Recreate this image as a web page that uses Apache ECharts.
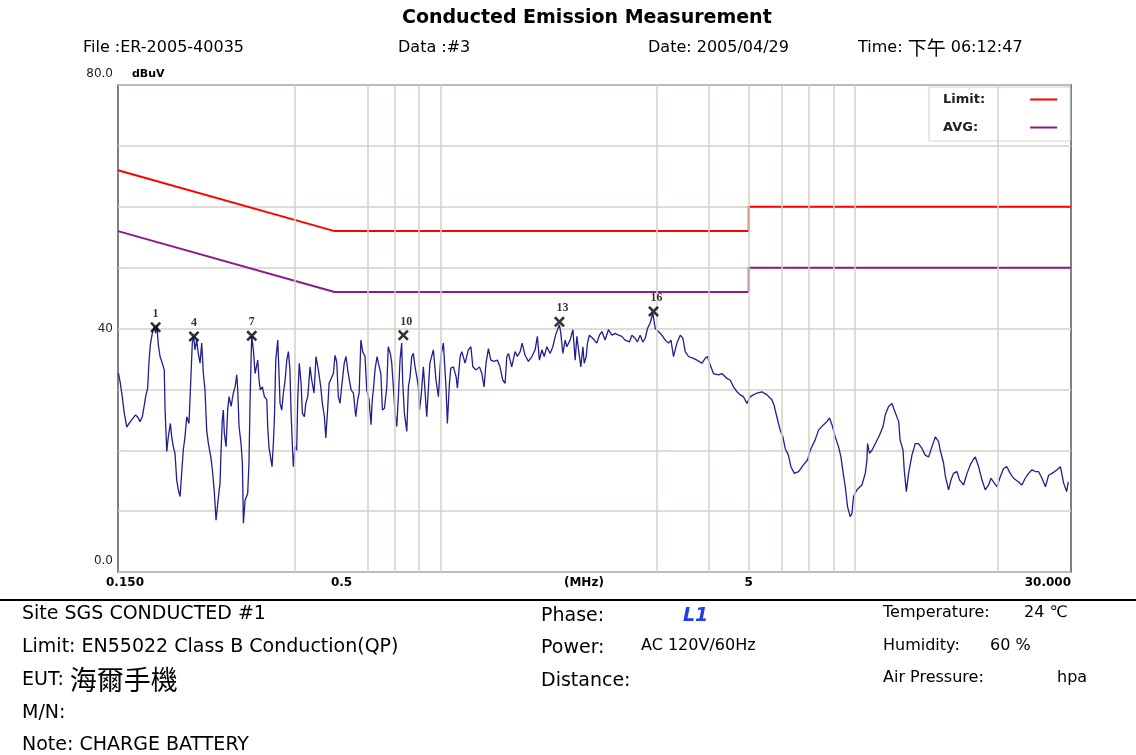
<!DOCTYPE html>
<html>
<head>
<meta charset="utf-8">
<title>Conducted Emission Measurement</title>
<script src="https://cdn.jsdelivr.net/npm/echarts@6/dist/echarts.min.js"></script>
<style>
html, body { margin: 0; padding: 0; background: #fff; }
#chart { width: 1136px; height: 755px; }
</style>
</head>
<body>
<div id="chart"></div>
<script>
var FONT = '"DejaVu Sans", "Noto Sans CJK TC", sans-serif';
var CJK = '"Noto Sans CJK TC", "DejaVu Sans", sans-serif';

// limit lines (MHz, dBuV)
var limitQP = [[0.15, 66], [0.5, 56], [5, 56], [5, 60], [30, 60]];
var limitAVG = [[0.15, 56], [0.5, 46], [5, 46], [5, 50], [30, 50]];

// marked peaks
var peakNo = ['1', '4', '7', '10', '13', '16'];
var peakFreq = [0.1849, 0.2288, 0.3155, 0.7328, 1.7456, 2.945];
var peakLevel = [40.2, 38.7, 38.8, 38.9, 41.1, 42.8];

// vertical grid lines the plot shows
var gridFreq = [0.4, 0.6, 0.7, 0.8, 0.9, 3, 4, 5, 6, 7, 8, 9, 20];

// axis labels
var xLabelValues = [0.15, 0.5, 2, 5, 30];
var xLabelText = ['0.150', '0.5', '(MHz)', '5', '30.000'];
var yLabelValues = [0, 40, 80];
var yLabelText = ['0.0', '40', '80.0'];

// scan trace (MHz, dBuV)
var scanData = [
  [0.1503,32.7],[0.1517,31.3],[0.1536,28.8],[0.1553,26.1],[0.1564,25.0],[0.1575,23.8],[0.1595,24.4],[0.1619,25.0],[0.1633,25.3],[0.1654,25.8],
  [0.1679,25.3],[0.1695,24.7],[0.1717,25.5],[0.1736,27.4],[0.1749,28.8],[0.1769,30.2],[0.1782,34.5],[0.1795,37.3],[0.1815,39.2],[0.1835,40.3],
  [0.1849,39.2],[0.1862,40.6],[0.1877,37.3],[0.1895,35.4],[0.1919,34.3],[0.1940,33.2],[0.1948,26.9],[0.1967,19.8],[0.1984,22.2],[0.2007,24.4],
  [0.2022,22.2],[0.2040,20.6],[0.2059,19.5],[0.2079,15.1],[0.2098,13.5],[0.2118,12.4],[0.2137,16.2],[0.2156,20.0],[0.2177,22.2],[0.2198,25.5],
  [0.2226,24.4],[0.2250,32.1],[0.2267,37.6],[0.2285,38.7],[0.2301,36.5],[0.2323,38.1],[0.2344,35.9],[0.2367,34.3],[0.2389,37.6],[0.2411,32.6],
  [0.2433,29.9],[0.2456,23.3],[0.2479,21.1],[0.2513,18.9],[0.2535,16.8],[0.2562,13.2],[0.2587,8.5],[0.2612,11.3],[0.2645,14.6],[0.2659,19.5],
  [0.2679,25.0],[0.2694,26.6],[0.2709,22.8],[0.2735,20.6],[0.2760,26.6],[0.2781,28.8],[0.2813,27.2],[0.2848,29.4],[0.2876,30.4],[0.2903,32.4],
  [0.2919,29.9],[0.2940,23.9],[0.2973,21.1],[0.2995,17.9],[0.3012,8.0],[0.3040,11.8],[0.3085,12.9],[0.3107,17.9],[0.3125,27.7],[0.3143,34.8],
  [0.3155,38.7],[0.3184,36.5],[0.3214,32.6],[0.3262,34.8],[0.3286,31.5],[0.3309,29.9],[0.3347,30.4],[0.3385,28.8],[0.3430,28.3],[0.3449,23.6],
  [0.3474,20.4],[0.3532,17.3],[0.3558,21.1],[0.3578,25.0],[0.3606,34.8],[0.3646,38.1],[0.3672,32.6],[0.3693,27.7],[0.3728,26.6],[0.3762,29.4],
  [0.3798,31.5],[0.3834,34.8],[0.3868,36.2],[0.3902,33.2],[0.3924,26.6],[0.3953,21.1],[0.3976,17.3],[0.4013,20.6],[0.4051,20.0],[0.4074,28.3],
  [0.4109,34.3],[0.4151,31.0],[0.4181,26.1],[0.4228,25.5],[0.4261,27.7],[0.4308,28.8],[0.4363,33.7],[0.4405,31.5],[0.4461,29.4],[0.4510,35.4],
  [0.4569,33.2],[0.4631,30.4],[0.4672,27.7],[0.4725,25.5],[0.4763,22.0],[0.4816,27.2],[0.4851,31.0],[0.4902,30.7],[0.4967,32.6],[0.5014,35.6],
  [0.5061,34.5],[0.5106,28.8],[0.5153,27.7],[0.5201,30.4],[0.5276,34.3],[0.5328,35.4],[0.5380,33.2],[0.5420,31.8],[0.5482,29.9],[0.5552,29.4],
  [0.5626,25.5],[0.5687,28.3],[0.5732,29.4],[0.5789,38.1],[0.5846,36.2],[0.5923,35.4],[0.5980,29.9],[0.6057,28.3],[0.6124,24.2],[0.6167,28.3],
  [0.6214,30.4],[0.6261,33.2],[0.6333,35.4],[0.6380,34.3],[0.6467,32.6],[0.6525,26.6],[0.6598,26.9],[0.6685,30.4],[0.6738,37.0],[0.6817,35.9],
  [0.6871,34.3],[0.6934,30.4],[0.7000,26.1],[0.7066,23.9],[0.7129,28.8],[0.7195,34.8],[0.7262,37.6],[0.7301,31.5],[0.7370,26.1],[0.7471,23.1],
  [0.7538,30.4],[0.7609,32.1],[0.7680,35.4],[0.7746,35.9],[0.7822,33.7],[0.7898,32.1],[0.7969,30.4],[0.8013,26.6],[0.8090,28.8],[0.8192,33.7],
  [0.8348,25.5],[0.8495,34.3],[0.8661,36.5],[0.8789,31.5],[0.8905,28.8],[0.9025,35.4],[0.9156,37.6],[0.9291,30.4],[0.9362,24.4],[0.9469,31.0],
  [0.9543,33.5],[0.9681,33.7],[0.9827,32.1],[0.9900,30.2],[1.005,35.4],[1.0145,36.2],[1.033,34.3],[1.052,36.5],[1.067,37.0],[1.0785,33.7],
  [1.0988,33.2],[1.119,33.7],[1.134,32.6],[1.148,30.4],[1.1605,34.3],[1.176,36.7],[1.192,34.8],[1.214,34.6],[1.236,34.8],[1.2544,33.7],
  [1.274,31.5],[1.2905,31.0],[1.303,35.4],[1.315,35.9],[1.339,33.7],[1.364,36.2],[1.382,35.4],[1.403,36.2],[1.419,37.6],[1.442,35.6],
  [1.469,34.6],[1.4975,35.4],[1.525,36.5],[1.544,38.7],[1.5616,34.8],[1.583,36.5],[1.6036,35.4],[1.628,37.0],[1.657,35.9],[1.683,37.0],
  [1.705,38.7],[1.7265,39.8],[1.7456,40.6],[1.759,39.2],[1.779,35.9],[1.802,38.1],[1.819,37.0],[1.852,38.1],[1.881,39.8],[1.905,34.8],
  [1.923,38.7],[1.951,35.4],[1.966,33.7],[1.989,37.0],[2.003,34.3],[2.026,35.4],[2.040,37.6],[2.062,38.9],[2.100,38.4],[2.1485,37.6],
  [2.1804,38.9],[2.210,39.5],[2.250,38.1],[2.292,39.8],[2.3357,38.9],[2.380,39.2],[2.424,38.9],[2.470,38.7],[2.5145,38.1],[2.577,37.8],
  [2.612,38.9],[2.660,38.4],[2.692,37.8],[2.734,38.9],[2.7765,37.8],[2.8126,38.4],[2.848,40.0],[2.890,40.9],[2.935,42.5],[2.973,40.0],
  [3.0285,39.5],[3.085,38.9],[3.143,38.1],[3.202,37.6],[3.245,38.1],[3.291,35.4],[3.354,37.6],[3.417,38.9],[3.468,38.4],[3.512,36.2],
  [3.578,35.4],[3.678,35.1],[3.749,34.8],[3.855,34.3],[3.924,35.1],[3.9755,35.4],[4.036,34.0],[4.111,32.6],[4.226,32.4],[4.307,32.6],
  [4.430,31.8],[4.5126,31.5],[4.595,30.4],[4.684,29.6],[4.769,29.1],[4.855,28.8],[4.950,27.7],[5.042,28.8],[5.134,29.1],[5.233,29.4],
  [5.380,29.6],[5.534,29.1],[5.687,28.3],[5.756,27.4],[5.846,25.5],[5.956,23.3],[6.047,22.2],[6.124,20.3],[6.234,19.2],[6.322,17.3],
  [6.442,16.2],[6.598,16.5],[6.777,17.6],[6.934,18.4],[7.039,20.0],[7.234,21.7],[7.370,23.3],[7.580,24.2],[7.722,24.7],[7.835,25.3],
  [7.942,24.2],[8.089,22.2],[8.237,20.6],[8.348,18.9],[8.443,16.5],[8.552,14.0],[8.662,10.7],[8.789,9.1],[8.874,9.6],[8.955,12.4],
  [9.126,13.5],[9.383,14.3],[9.558,16.2],[9.648,18.4],[9.680,21.1],[9.788,19.5],[9.922,20.0],[10.11,21.1],[10.35,22.5],[10.55,23.9],
  [10.68,25.8],[10.88,27.2],[11.09,27.7],[11.23,26.6],[11.51,24.7],[11.60,21.7],[11.79,20.0],[11.87,16.8],[12.01,13.2],[12.16,16.2],
  [12.39,19.2],[12.62,21.1],[12.85,21.1],[13.10,20.3],[13.34,19.2],[13.59,18.9],[13.85,20.6],[14.11,22.2],[14.37,21.4],[14.50,20.0],
  [14.77,17.9],[14.92,15.7],[15.19,13.5],[15.39,15.1],[15.61,16.2],[15.91,16.5],[16.15,15.1],[16.51,14.3],[16.83,16.2],[17.14,17.6],
  [17.40,18.4],[17.62,18.9],[17.95,17.3],[18.29,15.1],[18.62,13.5],[18.98,14.3],[19.23,15.4],[19.59,14.6],[19.89,14.0],[20.26,15.7],
  [20.62,17.0],[21.00,17.3],[21.40,16.2],[21.80,15.4],[22.42,14.8],[22.83,14.3],[23.26,15.4],[23.70,16.2],[24.16,16.8],[24.60,16.5],
  [25.04,16.5],[25.53,15.4],[26.02,14.0],[26.49,15.9],[26.99,16.2],[27.77,16.8],[28.28,17.3],[28.80,14.6],[29.28,13.2],[29.55,14.8]
];

// header / footer texts
var headerTexts = [
  { text: 'File :ER-2005-40035', x: 83 },
  { text: 'Data :#3', x: 398 },
  { text: 'Date: 2005/04/29', x: 648 },
  { text: 'Time: {c|下午} 06:12:47', x: 858 }
];
var footerLeft = ['Site SGS CONDUCTED #1', 'Limit: EN55022 Class B Conduction(QP)', 'EUT: {c|海爾手機}', 'M/N:', 'Note: CHARGE BATTERY'];
var footerLeftY = [614, 647, 680, 713, 745];
var footerMid = ['Phase:', 'Power:', 'Distance:'];
var footerMidY = [616, 648, 681];
var footerRight = ['Temperature:', 'Humidity:', 'Air Pressure:'];
var footerRightVal = ['24 ℃', '60 %', 'hpa'];
var footerRightValX = [1024, 990, 1057];
var footerRightY = [613, 646, 678];


function pickLabel(values, texts, v) {
    for (var i = 0; i < values.length; i++) {
        if (Math.abs(values[i] - v) < 1e-6 * Math.max(1, values[i])) return texts[i];
    }
    return '';
}


var graphics = [];
graphics.push({
    type: 'text', x: 402, y: 18,
    style: { text: 'Conducted Emission Measurement', font: 'bold 19px ' + FONT, fill: '#000', verticalAlign: 'middle' }
});
headerTexts.forEach(function(h) {
    graphics.push({ type: 'text', x: h.x, y: 48,
        style: { text: h.text, font: '16px ' + FONT, fill: '#000', verticalAlign: 'middle',
            rich: { c: { fontFamily: CJK, fontSize: 19, fill: '#000' } } } });
});
graphics.push({ type: 'line', shape: { x1: 0, y1: 600, x2: 1136, y2: 600 },
    style: { stroke: '#000', lineWidth: 2 } });
footerLeft.forEach(function(t, i) {
    graphics.push({ type: 'text', x: 22, y: footerLeftY[i],
        style: { text: t, font: '19px ' + FONT, fill: '#000', verticalAlign: 'middle',
            rich: { c: { fontFamily: CJK, fontSize: 27, fill: '#000' } } } });
});
footerMid.forEach(function(t, i) {
    graphics.push({ type: 'text', x: 541, y: footerMidY[i],
        style: { text: t, font: '19px ' + FONT, fill: '#000', verticalAlign: 'middle' } });
});
graphics.push({ type: 'text', x: 683, y: 616,
    style: { text: 'L1', font: 'italic bold 19px ' + FONT, fill: '#1f3cf0', verticalAlign: 'middle' } });
graphics.push({ type: 'text', x: 641, y: 646,
    style: { text: 'AC 120V/60Hz', font: '16px ' + FONT, fill: '#000', verticalAlign: 'middle' } });
footerRight.forEach(function(t, i) {
    graphics.push({ type: 'text', x: 883, y: footerRightY[i],
        style: { text: t, font: '16px ' + FONT, fill: '#000', verticalAlign: 'middle' } });
    graphics.push({ type: 'text', x: footerRightValX[i], y: footerRightY[i],
        style: { text: footerRightVal[i], font: '16px ' + FONT, fill: '#000', verticalAlign: 'middle' } });
});


var peakPoints = peakFreq.map(function(f, i) {
    return { name: peakNo[i], value: [f, peakLevel[i]] };
});

var option = {
    animation: false,
    backgroundColor: '#fff',
    textStyle: { fontFamily: FONT },
    graphic: graphics,
    grid: {
        left: 118, right: 65, top: 85, bottom: 183,
        show: true, backgroundColor: '#fff', borderColor: '#808080', borderWidth: 2
    },
    legend: {
        // right padding per item keeps both names starting at the same x
        data: [
            { name: 'Limit:', textStyle: { padding: [0, 40, 0, 0] } },
            { name: 'AVG:', textStyle: { padding: [0, 47, 0, 0] } }
        ],
        orient: 'vertical',
        left: 929, top: 87,
        align: 'right',
        icon: 'rect',
        itemWidth: 27, itemHeight: 2,
        itemGap: 15,
        padding: [6, 13, 7, 14],
        backgroundColor: '#fff',
        borderColor: '#d4d0c8', borderWidth: 1, borderRadius: 0,
        selectedMode: false,
        textStyle: { fontFamily: FONT, fontSize: 13, fontWeight: 'bold', color: '#222' }
    },
    xAxis: {
        type: 'log', logBase: 10, min: 0.15, max: 30,
        axisLine: { show: false }, axisTick: { show: false },
        splitLine: { show: false }, minorSplitLine: { show: false },
        axisLabel: {
            customValues: xLabelValues,
            formatter: function(v) {
                var t = pickLabel(xLabelValues, xLabelText, v);
                return (t === '0.150' || t === '0.5') ? '{s|' + t + '}' : t;
            },
            alignMaxLabel: 'right',
            fontFamily: FONT, fontWeight: 'bold', fontSize: 12, color: '#000', margin: 5,
            rich: { s: { fontFamily: FONT, fontWeight: 'bold', fontSize: 12, color: '#000', padding: [0, 0, 0, 14] } }
        }
    },
    yAxis: {
        type: 'value', min: 0, max: 80, interval: 10,
        name: 'dBuV', nameLocation: 'end', nameGap: 5,
        nameTextStyle: { fontFamily: FONT, fontWeight: 'bold', fontSize: 11, color: '#000',
            align: 'left', padding: [0, 0, 0, 14] },
        axisLine: { show: false }, axisTick: { show: false },
        splitLine: { show: true, lineStyle: { color: '#d4d0c8', width: 1.5 } },
        axisLabel: {
            customValues: yLabelValues,
            formatter: function(v) {
                var t = pickLabel(yLabelValues, yLabelText, v);
                return (v === 0 || v === 80) ? '{lo|' + t + '}' : t;
            },
            verticalAlign: 'middle',
            fontFamily: FONT, fontSize: 12, color: '#222', margin: 5,
            rich: { lo: { fontFamily: FONT, fontSize: 12, color: '#222', padding: [0, 0, 22, 0] } }
        }
    },
    series: [
        {
            name: 'grid', type: 'line', data: [], z: 1, silent: true,
            markLine: {
                silent: true, symbol: 'none', animation: false,
                label: { show: false },
                lineStyle: { color: '#d4d0c8', width: 1.5, type: 'solid' },
                data: gridFreq.map(function(f) { return { xAxis: f }; })
            }
        },
        {
            name: 'Limit:', type: 'line', data: limitQP, z: 3,
            showSymbol: false, color: '#ff0000',
            lineStyle: { color: '#ff0000', width: 2 }
        },
        {
            name: 'AVG:', type: 'line', data: limitAVG, z: 3,
            showSymbol: false, color: '#8b1a8b',
            lineStyle: { color: '#8b1a8b', width: 2 }
        },
        {
            name: 'scan', type: 'line', data: scanData, z: 4,
            showSymbol: false, color: '#1f1f8f',
            lineStyle: { color: '#1f1f8f', width: 1.3 }
        },
        {
            name: 'peaks', type: 'scatter', data: peakPoints, z: 5,
            symbol: 'path://M0,2L2,0L6,4L10,0L12,2L8,6L12,10L10,12L6,8L2,12L0,10L4,6Z',
            symbolSize: 11,
            itemStyle: { color: '#000' },
            label: {
                show: true, position: 'top', distance: 2, align: 'left', offset: [-3, 0],
                formatter: '{b}',
                fontFamily: '"Liberation Serif", "DejaVu Serif", serif',
                fontWeight: 'bold', fontSize: 12, color: '#000'
            }
        }
    ]
};

var myChart = echarts.init(document.getElementById('chart'));
myChart.setOption(option);
</script>
</body>
</html>
